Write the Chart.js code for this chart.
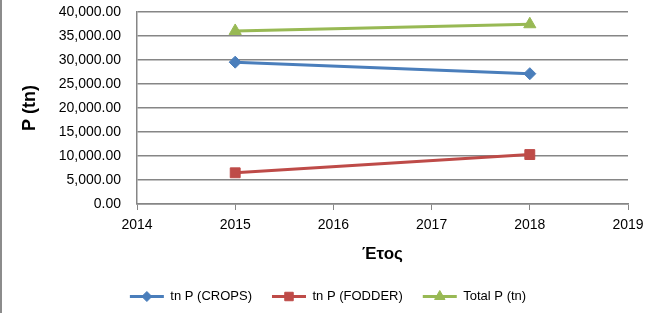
<!DOCTYPE html>
<html>
<head>
<meta charset="utf-8">
<script src="https://cdn.jsdelivr.net/npm/chart.js@4"></script>
<style>
  html, body { margin: 0; padding: 0; background: #fff; }
  #wrap { width: 648px; height: 313px; position: relative; box-sizing: border-box; border-left: 2px solid #8c8c8c; }
  canvas { display: block; }
</style>
</head>
<body>
<div id="wrap"><canvas id="myChart" width="646" height="313"></canvas></div>
<script>
// data
var years = [2015, 2018];
var cropsP = [29550, 27150];
var fodderP = [6500, 10300];
var totalP = [36050, 37450];
var yTicks = [0, 5000, 10000, 15000, 20000, 25000, 30000, 35000, 40000];

var seriesNames = ["tn P (CROPS)", "tn P (FODDER)", "Total P (tn)"];
var seriesColors = ["#4a7ebb", "#be4b48", "#98b954"];
var seriesMarkers = ["rectRot", "rect", "triangle"];
var markerSizes = [6, 7, 7];

var font = "'Liberation Sans', Arial, sans-serif";

function pts(vals) {
  return vals.map(function(v, i) { return { x: years[i], y: v }; });
}

// draws the series marker on top of each legend line
var legendMarkers = {
  id: 'legendMarkers',
  afterDraw: function(chart) {
    var lg = chart.legend;
    if (!lg || !lg.legendHitBoxes) return;
    var ctx = chart.ctx;
    lg.legendHitBoxes.forEach(function(box, i) {
      var cx = box.left + 17;
      var cy = box.top + box.height / 2;
      ctx.save();
      ctx.fillStyle = seriesColors[i];
      ctx.strokeStyle = seriesColors[i];
      ctx.lineWidth = 1;
      Chart.helpers.drawPoint(ctx, { pointStyle: seriesMarkers[i], radius: markerSizes[i] - 1, borderWidth: 1 }, cx, cy);
      ctx.restore();
    });
  }
};

var datasets = [cropsP, fodderP, totalP].map(function(vals, i) {
  return {
    label: seriesNames[i],
    data: pts(vals),
    borderColor: seriesColors[i],
    backgroundColor: seriesColors[i],
    borderWidth: 3,
    pointStyle: seriesMarkers[i],
    pointRadius: markerSizes[i],
    pointBorderWidth: 1,
    pointBorderColor: seriesColors[i],
    pointBackgroundColor: seriesColors[i]
  };
});

var ctx = document.getElementById('myChart').getContext('2d');
var chart = new Chart(ctx, {
  type: 'line',
  data: { datasets: datasets },
  plugins: [legendMarkers],
  options: {
    responsive: false,
    animation: false,
    layout: { padding: { left: 26, right: 20, top: 12, bottom: 0 } },
    plugins: {
      tooltip: { enabled: false },
      legend: {
        position: 'bottom',
        labels: {
          boxWidth: 34,
          boxHeight: 3,
          padding: 20,
          color: '#000',
          font: { family: font, size: 13 },
          generateLabels: function(chart) {
            return seriesNames.map(function(n, i) {
              return { text: n, fillStyle: seriesColors[i], strokeStyle: seriesColors[i], lineWidth: 0, datasetIndex: i };
            });
          }
        }
      }
    },
    scales: {
      x: {
        type: 'linear',
        min: 2014,
        max: 2019,
        afterFit: function(s) { s.height = 66; s.paddingLeft = 0; s.paddingRight = 0; },
        ticks: {
          stepSize: 1,
          color: '#000',
          padding: 7,
          font: { family: font, size: 14 },
          callback: function(v) { return String(v); }
        },
        grid: { drawOnChartArea: false, drawTicks: true, tickLength: 6, color: '#868686' },
        border: { color: '#868686', width: 1.5 },
        title: {
          display: true,
          text: 'Έτος',
          color: '#000',
          font: { family: font, size: 17, weight: 'bold' },
          padding: { top: 0, bottom: 5 }
        }
      },
      y: {
        min: 0,
        max: 40000,
        afterFit: function(s) { s.width = 109; s.paddingTop = 0; s.paddingBottom = 0; },
        afterBuildTicks: function(s) { s.ticks = yTicks.map(function(v) { return { value: v }; }); },
        ticks: {
          color: '#000',
          padding: 16,
          font: { family: font, size: 14 },
          callback: function(v) { return v.toLocaleString('en-US', { minimumFractionDigits: 2, maximumFractionDigits: 2 }); }
        },
        grid: { color: '#868686', lineWidth: 1.5, drawTicks: false },
        border: { color: '#868686', width: 1.5 },
        title: {
          display: true,
          text: 'P (tn)',
          color: '#000',
          font: { family: font, size: 18, weight: 'bold' },
          padding: { top: -9, bottom: 0 }
        }
      }
    }
  }
});
</script>
</body>
</html>
